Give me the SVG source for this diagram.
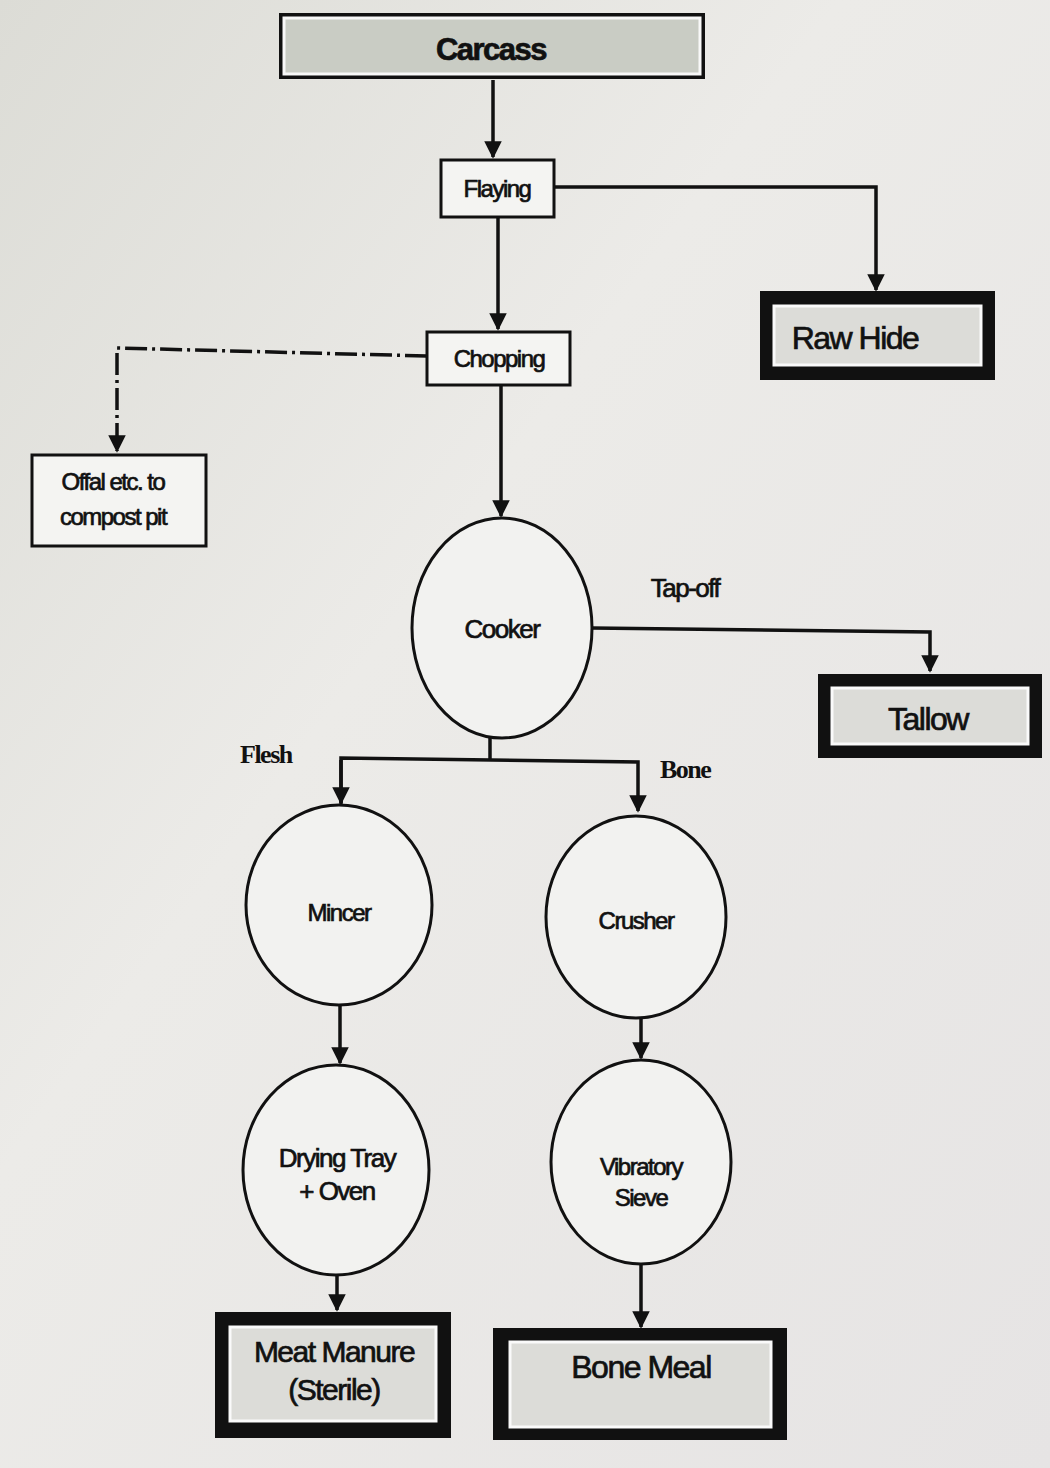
<svg xmlns="http://www.w3.org/2000/svg" width="1050" height="1468" viewBox="0 0 1050 1468">
<defs>
<marker id="arr" viewBox="0 0 10 10" refX="9" refY="5" markerWidth="5" markerHeight="5" orient="auto" markerUnits="strokeWidth">
<path d="M0,0 L10,5 L0,10 z" fill="#111"/>
</marker>
<linearGradient id="bg" x1="0" y1="0" x2="1" y2="1">
<stop offset="0" stop-color="#dcdcd6"/>
<stop offset="0.4" stop-color="#ecebe8"/>
<stop offset="1" stop-color="#e6e4e4"/>
</linearGradient>
</defs>
<style>
.t{font-family:"Liberation Sans",Arial,sans-serif;fill:#111;stroke:#111;stroke-width:0.7px;text-anchor:middle;letter-spacing:-1.5px}
.s{font-family:"Liberation Serif","Times New Roman",serif;fill:#111;font-weight:bold;letter-spacing:-1.5px}
.box{fill:#f4f4f2;stroke:#111;stroke-width:3}
.circ{fill:#f2f2f0;stroke:#111;stroke-width:3}
.line{fill:none;stroke:#111;stroke-width:3.5}
.heavy{fill:#111}
.inner{fill:#dcdcd8;stroke:#fafafa;stroke-width:3}
</style>
<rect width="1050" height="1468" fill="url(#bg)"/>

<g id="connectors">
<path class="line" d="M493,80 V157" marker-end="url(#arr)"/>
<path class="line" d="M554,187 H876 V290" marker-end="url(#arr)"/>
<path class="line" d="M498,217 V329" marker-end="url(#arr)"/>
<path class="line" d="M427,356 L117,348 V451" stroke-dasharray="22,5,3,5" marker-end="url(#arr)"/>
<path class="line" d="M501,385 V516" marker-end="url(#arr)"/>
<path class="line" d="M592,628 L930,632 V671" marker-end="url(#arr)"/>
<path class="line" d="M490,738 V760"/>
<path class="line" d="M341,804 V758 L638,762 V811" marker-end="url(#arr)"/>
<path class="line" d="M341,760 V803" marker-end="url(#arr)"/>
<path class="line" d="M340,1005 V1063" marker-end="url(#arr)"/>
<path class="line" d="M641,1018 V1058" marker-end="url(#arr)"/>
<path class="line" d="M337,1275 V1310" marker-end="url(#arr)"/>
<path class="line" d="M641,1264 V1327" marker-end="url(#arr)"/>
</g>

<g id="carcass">
<rect x="279" y="13" width="426" height="66" fill="#111"/>
<rect x="284" y="18" width="416" height="56" fill="#c9ccc4" stroke="#f8f8f8" stroke-width="3"/>
<text class="t" x="491" y="60" font-size="31" font-weight="bold">Carcass</text>
</g>

<g id="flaying">
<rect class="box" x="441" y="160" width="113" height="57"/>
<text class="t" x="497" y="197" font-size="24">Flaying</text>
</g>

<g id="rawhide">
<rect class="heavy" x="760" y="291" width="235" height="89"/>
<rect class="inner" x="774" y="306" width="207" height="59" fill="#e4e4e0"/>
<text class="t" x="855" y="349" font-size="32" letter-spacing="-2px">Raw Hide</text>
</g>

<g id="chopping">
<rect class="box" x="427" y="332" width="143" height="53"/>
<text class="t" x="499" y="367" font-size="24">Chopping</text>
</g>

<g id="offal">
<rect class="box" x="32" y="455" width="174" height="91"/>
<text class="t" x="113" y="490" font-size="24">Offal etc. to</text>
<text class="t" x="113" y="525" font-size="24">compost pit</text>
</g>

<g id="cooker">
<ellipse class="circ" cx="502" cy="628" rx="90" ry="110"/>
<text class="t" x="502" y="638" font-size="26">Cooker</text>
</g>

<text class="t" x="685" y="597" font-size="26">Tap-off</text>

<g id="tallow">
<rect class="heavy" x="818" y="674" width="224" height="84"/>
<rect class="inner" x="832" y="688" width="196" height="56"/>
<text class="t" x="928" y="730" font-size="32">Tallow</text>
</g>

<text class="s" x="240" y="763" font-size="26">Flesh</text>
<text class="s" x="660" y="778" font-size="26">Bone</text>

<g id="mincer">
<ellipse class="circ" cx="339" cy="905" rx="93" ry="100"/>
<text class="t" x="339" y="921" font-size="24">Mincer</text>
</g>

<g id="crusher">
<ellipse class="circ" cx="636" cy="917" rx="90" ry="101"/>
<text class="t" x="636" y="929" font-size="24">Crusher</text>
</g>

<g id="drying">
<ellipse class="circ" cx="336" cy="1170" rx="93" ry="105"/>
<text class="t" x="337" y="1167" font-size="26">Drying Tray</text>
<text class="t" x="337" y="1200" font-size="26">+ Oven</text>
</g>

<g id="sieve">
<ellipse class="circ" cx="641" cy="1162" rx="90" ry="102"/>
<text class="t" x="641" y="1175" font-size="24">Vibratory</text>
<text class="t" x="641" y="1206" font-size="24">Sieve</text>
</g>

<g id="meatmanure">
<rect class="heavy" x="215" y="1312" width="236" height="126"/>
<rect class="inner" x="230" y="1327" width="206" height="94"/>
<text class="t" x="334" y="1362" font-size="30">Meat Manure</text>
<text class="t" x="334" y="1400" font-size="30">(Sterile)</text>
</g>

<g id="bonemeal">
<rect class="heavy" x="493" y="1328" width="294" height="112"/>
<rect class="inner" x="510" y="1342" width="261" height="85" fill="#d6dcd2"/>
<text class="t" x="641" y="1378" font-size="32">Bone Meal</text>
</g>
</svg>
